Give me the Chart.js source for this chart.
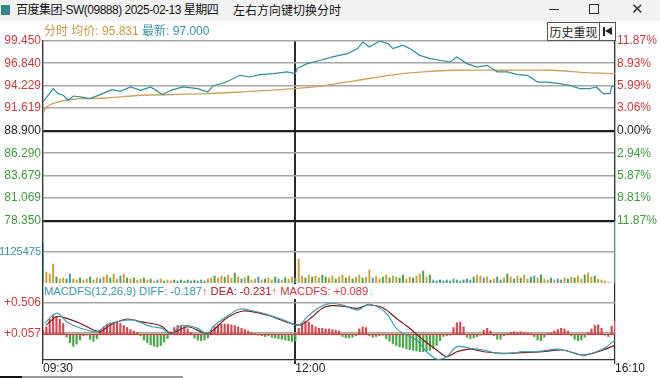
<!DOCTYPE html>
<html>
<head>
<meta charset="utf-8">
<script src="https://cdn.jsdelivr.net/npm/chart.js@4.4.1/dist/chart.umd.min.js"></script>
<style>
  html, body { margin: 0; padding: 0; }
  body {
    width: 660px; height: 378px; overflow: hidden; background: #fff; position: relative;
    font-family: "Liberation Sans", Arial, "Noto Sans CJK SC", sans-serif;
  }
  .cjk { font-family: "Noto Sans CJK SC", sans-serif; }
  .titlebar { position: absolute; left: 0; top: 0; width: 660px; height: 21px; background: #f3f3f3; }
  .title-icon { position: absolute; left: 1px; top: 5px; width: 9px; height: 10px; background: linear-gradient(90deg, #2e8f6e, #3b7f9e); }
  .title-text { position: absolute; left: 16px; top: 1px; font-size: 12px; line-height: 18px; color: #111; white-space: nowrap; letter-spacing: -0.5px; }
  .hint { position: absolute; left: 233px; top: 1px; font-size: 12px; line-height: 18px; color: #111; white-space: nowrap; }
  .win-min { position: absolute; left: 549px; top: 9px; width: 10px; height: 1px; background: #333; }
  .win-max { position: absolute; left: 589px; top: 4px; width: 8px; height: 8px; border: 1px solid #333; }
  .win-close { position: absolute; left: 631px; top: 0px; font-size: 15px; line-height: 17px; color: #333; }
  .legend { position: absolute; left: 44px; top: 24px; font-size: 12px; line-height: 15px; white-space: nowrap; }
  .btn-hist { position: absolute; left: 547px; top: 22px; width: 51px; height: 17px; border: 1px solid #555; background: #fff;
              font-size: 12px; line-height: 17px; text-align: center; color: #222; }
  .btn-back { position: absolute; left: 599px; top: 22px; width: 15px; height: 17px; border: 1px solid #555; background: #fff; }
  .btn-back .bar { position: absolute; left: 3px; top: 4px; width: 2px; height: 9px; background: #222; }
  .btn-back .tri { position: absolute; left: 5px; top: 4px; width: 0; height: 0; border-top: 4.5px solid transparent;
                   border-bottom: 4.5px solid transparent; border-right: 7px solid #222; }
  .macd-legend { position: absolute; left: 44px; top: 284px; font-size: 11.2px; line-height: 15px; white-space: nowrap; background: #fff; padding-right: 2px; }
  canvas { position: absolute; left: 0; }
  #priceCanvas { top: 30px; }
  #volCanvas { top: 214px; }
  #macdCanvas { top: 283px; }
  .foot { position: absolute; left: 0; top: 376px; width: 183px; height: 2px; background: #9a9a9a; }
  .foot .dk { position: absolute; left: 0; top: 0; width: 22px; height: 2px; background: #111; }
</style>
</head>
<body>
<div class="titlebar">
  <div class="title-icon"></div>
  <div class="title-text">百度集团-SW(09888) 2025-02-13 星期四</div>
  <div class="hint cjk">左右方向键切换分时</div>
  <div class="win-min"></div>
  <div class="win-max"></div>
  <div class="win-close">✕</div>
</div>

<canvas id="priceCanvas" width="660" height="200"></canvas>
<canvas id="volCanvas" width="660" height="76"></canvas>
<canvas id="macdCanvas" width="660" height="95"></canvas>

<div class="legend">
  <span style="color:#c49a48">分时 均价: 95.831</span>
  <span style="color:#3a93a0">最新: 97.000</span>
</div>
<div class="btn-hist cjk">历史重现</div>
<div class="btn-back"><div class="bar"></div><div class="tri"></div></div>
<div class="macd-legend"><span style="color:#3a96a3">MACDFS(12,26,9) DIFF: -0.187</span><span style="color:#e04a4a">↑</span><span style="color:#a0202e"> DEA: -0.231</span><span style="color:#e04a4a">↑</span><span style="color:#c8384a"> MACDFS: +0.089</span><span style="color:#8fd3e6">↓</span></div>
<div class="foot"><div class="dk"></div></div>

<script>
// ---- axis ticks / labels ----
const prevClose = 88.900;
const priceTicks = [99.450, 96.840, 94.229, 91.619, 88.900, 86.290, 83.679, 81.069, 78.350];
const timeTicks = [0, 150, 340];           // minutes since 09:30 (lunch break removed)
const timeLabels = ['09:30', '12:00', '16:10'];
const volumeTicks = [1125475];
const volumeMax = 2250950;
const macdTicks = [0.506, 0.057];

// ---- price (teal) and average price (tan) ----
const priceMinutes = [0, 6, 9, 12, 15, 18, 22, 28, 34, 41, 46, 52, 58, 64, 71, 76, 83, 92, 98, 101,
  109, 117, 123, 129, 137, 145, 150, 151, 157, 165, 172, 181, 187, 190, 194, 200, 205, 208, 214, 218,
  224, 230, 236, 242, 246, 252, 258, 264, 270, 276, 282, 288, 294, 300, 307, 313, 319, 325, 329, 333,
  337, 338, 340];
const priceValues = [92.30, 93.87, 93.28, 93.09, 92.50, 93.00, 92.89, 92.70, 93.17, 93.75, 93.55, 94.06, 93.67, 94.06, 93.17, 93.67, 94.06, 93.87, 93.47, 94.18,
  94.64, 95.43, 95.23, 95.51, 95.63, 95.82, 95.63, 96.22, 96.80, 97.19, 97.58, 97.97, 98.56, 99.33, 98.75, 99.42, 99.15, 98.56, 98.95, 98.56,
  97.77, 97.39, 97.19, 96.99, 97.58, 96.80, 96.40, 96.60, 95.82, 95.82, 95.51, 95.43, 94.64, 94.64, 94.46, 94.26, 93.87, 93.87, 94.06, 93.28,
  93.28, 94.06, 94.18];
const avgMinutes = [0, 2, 6, 18, 38, 58, 77, 98, 117, 150, 166, 187, 206, 226, 244, 273, 303, 323, 340];
const avgValues = [90.97, 91.68, 92.15, 92.62, 92.77, 93.09, 93.17, 93.28, 93.47, 93.87, 94.18, 94.84, 95.43, 95.82, 96.02, 96.02, 96.02, 95.75, 95.63];

// ---- volume, one bar per 2-minute slot ----
const BAR_STEP = 2;
const volumes = [
  1452000, 399000, 327000, 690000, 218000, 145000, 182000, 145000, 327000, 145000,
  109000, 182000, 109000, 145000, 218000, 109000, 182000, 145000, 218000, 290000,
  182000, 327000, 145000, 254000, 327000, 182000, 145000, 182000, 109000, 145000,
  182000, 109000, 145000, 73000, 109000, 145000, 73000, 109000, 73000, 109000,
  73000, 109000, 73000, 109000, 73000, 109000, 73000, 109000, 73000, 145000,
  182000, 254000, 182000, 254000, 218000, 290000, 182000, 363000, 218000, 145000,
  182000, 254000, 109000, 145000, 218000, 109000, 145000, 182000, 109000, 218000,
  145000, 109000, 182000, 145000, 218000, 182000, 871000, 254000, 182000, 290000,
  218000, 254000, 182000, 290000, 218000, 182000, 254000, 145000, 218000, 290000,
  182000, 254000, 145000, 218000, 290000, 182000, 218000, 472000, 182000, 254000,
  145000, 218000, 290000, 182000, 254000, 218000, 182000, 290000, 145000, 218000,
  182000, 254000, 327000, 436000, 218000, 290000, 109000, 73000, 109000, 73000,
  109000, 73000, 145000, 109000, 73000, 109000, 145000, 109000, 218000, 290000,
  254000, 182000, 218000, 109000, 145000, 218000, 109000, 182000, 327000, 218000,
  145000, 254000, 182000, 290000, 145000, 218000, 254000, 182000, 290000, 145000,
  109000, 182000, 109000, 145000, 109000, 182000, 145000, 218000, 182000, 254000,
  145000, 290000, 363000, 218000, 254000, 145000, 109000, 73000, 36000, 0,
  2250950];
// o = up (gold), g = down (green), t = flat (teal)
const volumeDir =
  'tooogoogto' + 'ogoogootoo' + 'gootogogoo' + 'gogotogoog' + 'tgtgtgttgo' +
  'ogoogoogot' + 'ogootogoog' + 'togoogoogo' + 'googgoogoo' + 'gogoogooto' +
  'ogogooggoo' + 'googogttgt' + 'tgtttgttgo' + 'otogogtogo' + 'gogoogtogo' +
  'ototgogogo' + 'ogoogoooot' + 't';

// ---- MACD panel ----
const macdBase = 0.042;                    // level of the red zero line
const macdHist = [
  0.10, 0.15, 0.26, 0.32, 0.30, 0.26, 0.20, 0.00, -0.08, -0.13,
  -0.10, -0.04, 0.02, 0.03, -0.03, -0.06, -0.02, 0.10, 0.15, 0.19,
  0.21, 0.22, 0.22, 0.20, 0.17, 0.14, 0.11, 0.09, 0.07, 0.02,
  -0.04, -0.08, -0.11, -0.13, -0.14, -0.12, -0.07, -0.02, 0.08, 0.14,
  0.17, 0.17, 0.15, 0.12, 0.07, -0.01, -0.04, -0.05, -0.04, -0.01,
  0.10, 0.15, 0.18, 0.19, 0.19, 0.19, 0.18, 0.17, 0.15, 0.13,
  0.11, 0.09, 0.07, 0.05, 0.03, 0.02, 0.01, 0.02, 0.00, -0.01,
  -0.02, -0.03, -0.04, -0.05, -0.06, -0.06, 0.13, 0.20, 0.23, 0.22,
  0.18, 0.15, 0.13, 0.13, 0.12, 0.12, 0.11, 0.10, 0.09, 0.01,
  -0.01, -0.01, 0.00, 0.02, 0.12, 0.15, 0.14, 0.02, 0.00, 0.01,
  0.02, 0.03, -0.02, -0.06, -0.09, -0.12, -0.14, -0.15, -0.17, -0.18,
  -0.19, -0.20, -0.21, -0.21, -0.20, -0.19, -0.16, -0.12, -0.05, 0.01,
  0.02, 0.03, 0.14, 0.21, 0.22, 0.15, 0.00, -0.02, -0.01, 0.01,
  0.03, 0.10, 0.13, 0.09, 0.02, -0.03, -0.03, 0.02, 0.05, 0.07,
  0.08, 0.07, 0.08, 0.07, 0.06, 0.05, 0.01, -0.04, -0.05, 0.00,
  0.05, 0.06, 0.09, 0.11, 0.13, 0.12, 0.09, 0.02, -0.03, -0.05,
  -0.04, 0.00, 0.07, 0.12, 0.17, 0.18, 0.13, 0.03, 0.01, 0.16,
  0.23];
const diffMinutes = [1, 6, 9, 14, 20, 26, 32, 38, 46, 54, 59, 65, 71, 76, 81, 86, 92, 98, 101, 109,
  117, 125, 133, 143, 150, 153, 157, 165, 171, 178, 187, 193, 200, 205, 210, 216, 222, 228, 234, 240,
  246, 254, 262, 270, 278, 285, 294, 306, 313, 321, 329, 335, 340];
const diffValues = [0.202, 0.322, 0.347, 0.225, 0.152, 0.105, 0.080, 0.177, 0.235, 0.249, 0.202, 0.152, 0.129, 0.042, 0.152, 0.167, 0.129, 0.042, 0.152, 0.297,
  0.409, 0.380, 0.332, 0.249, 0.177, 0.187, 0.297, 0.442, 0.492, 0.467, 0.394, 0.477, 0.428, 0.322, 0.129, 0.032, -0.040, -0.210, -0.316, -0.282,
  -0.137, -0.161, -0.185, -0.233, -0.233, -0.210, -0.210, -0.171, -0.210, -0.258, -0.210, -0.137, -0.040];
const deaMinutes = [2, 8, 14, 22, 30, 34, 40, 50, 58, 70, 76, 86, 98, 109, 119, 133, 147, 153, 159, 166,
  171, 178, 187, 193, 202, 210, 218, 226, 234, 240, 246, 254, 262, 273, 285, 297, 309, 321, 333, 340];
const deaValues = [0.177, 0.297, 0.274, 0.202, 0.105, 0.080, 0.177, 0.264, 0.225, 0.167, 0.057, 0.152, 0.057, 0.274, 0.380, 0.322, 0.202, 0.177, 0.274, 0.419,
  0.457, 0.452, 0.419, 0.467, 0.428, 0.274, 0.129, -0.040, -0.185, -0.282, -0.210, -0.171, -0.210, -0.233, -0.224, -0.210, -0.185, -0.258, -0.185, -0.113];

// ---- styling ----
const RED = '#cc3b3b', GREEN = '#3d9a3d', INK = '#1e1e1e', GRIDGRAY = '#a6a6a6';
const TEAL = '#2f8e99', TAN = '#c9a35e';
const VOL_COLORS = { o: '#c9a13c', g: '#4f9e4f', t: '#4a98a6' };
const LEFT_W = 43, RIGHT_W = 45;

Chart.defaults.font.family = '"Liberation Sans", Arial, sans-serif';
Chart.defaults.font.size = 12;
Chart.defaults.animation = false;
Chart.defaults.responsive = false;
Chart.defaults.plugins.legend.display = false;
Chart.defaults.plugins.tooltip.enabled = false;

const pts = (xs, ys) => xs.map((x, i) => ({ x, y: ys[i] }));
const fixTicks = list => scale => { scale.ticks = list.map(v => ({ value: v })); };
const sideFit = w => scale => { scale.width = w; scale.paddingTop = 0; scale.paddingBottom = 0; };

function timeScale(showLabels) {
  return {
    type: 'linear', min: 0, max: 340, offset: false,
    afterBuildTicks: fixTicks(timeTicks),
    afterFit: s => { s.height = showLabels ? 18 : 0; s.paddingLeft = 0; s.paddingRight = 0; },
    grid: { offset: false, color: '#2a2a2a', lineWidth: c => (c.tick && c.tick.value === 150) ? 2 : 1.2,
            drawTicks: showLabels, tickLength: 4 },
    border: { display: showLabels, color: '#333', width: 1.2 },
    ticks: { display: showLabels, autoSkip: false, maxRotation: 0, align: 'start', padding: -3, color: '#222',
             callback: v => timeLabels[timeTicks.indexOf(v)] }
  };
}

const priceColor = v => v > prevClose + 1e-9 ? RED : (v < prevClose - 1e-9 ? GREEN : INK);
const strongLine = v => v === prevClose || v === priceTicks[priceTicks.length - 1];

// price panel
new Chart(document.getElementById('priceCanvas'), {
  type: 'line',
  data: {
    datasets: [
      { data: pts(priceMinutes, priceValues), borderColor: TEAL, borderWidth: 1.2, pointRadius: 0, tension: 0 },
      { data: pts(avgMinutes, avgValues), borderColor: TAN, borderWidth: 1.3, pointRadius: 0, tension: 0.3 }
    ]
  },
  options: {
    layout: { padding: { top: 11, bottom: 9, left: 0, right: 0 } },
    scales: {
      x: timeScale(false),
      y: {
        position: 'left', min: priceTicks[priceTicks.length - 1], max: priceTicks[0],
        afterBuildTicks: fixTicks(priceTicks), afterFit: sideFit(LEFT_W),
        grid: { drawTicks: false, color: c => strongLine(c.tick.value) ? INK : GRIDGRAY,
                lineWidth: c => strongLine(c.tick.value) ? 2.2 : 1.6 },
        border: { color: '#333', width: 1.2 },
        ticks: { padding: 2, color: c => priceColor(c.tick.value), callback: v => v.toFixed(3) }
      },
      pct: {
        position: 'right', min: priceTicks[priceTicks.length - 1], max: priceTicks[0],
        afterBuildTicks: fixTicks(priceTicks), afterFit: sideFit(RIGHT_W),
        grid: { display: false, drawTicks: false },
        border: { color: '#333', width: 1.2 },
        ticks: { padding: 2, color: c => priceColor(c.tick.value),
                 callback: v => (Math.abs(v - prevClose) / prevClose * 100).toFixed(2) + '%' }
      }
    }
  }
});

// volume panel
new Chart(document.getElementById('volCanvas'), {
  type: 'bar',
  data: {
    datasets: [{
      data: volumes.map((v, i) => ({ x: i * BAR_STEP, y: v })),
      backgroundColor: volumes.map((v, i) => VOL_COLORS[volumeDir[i]]),
      barThickness: 1.3, grouped: false
    }]
  },
  options: {
    layout: { padding: { top: 7, bottom: 7, left: 0, right: RIGHT_W } },
    scales: {
      x: timeScale(false),
      y: {
        position: 'left', min: 0, max: volumeMax,
        afterBuildTicks: fixTicks(volumeTicks), afterFit: sideFit(LEFT_W),
        grid: { drawTicks: false, color: GRIDGRAY, lineWidth: 1.6 },
        border: { color: '#333', width: 1.2 },
        ticks: { padding: 2, color: '#3a8fa0', font: { size: 11 }, callback: v => String(v) }
      }
    }
  }
});

// MACD panel (top of its area sits under the legend row)
const MACD_MIN = -0.330, MACD_MAX = 0.786;
new Chart(document.getElementById('macdCanvas'), {
  type: 'bar',
  data: {
    datasets: [
      { type: 'line', data: pts(diffMinutes, diffValues), borderColor: '#3f9ea6', borderWidth: 1.2, pointRadius: 0, tension: 0.3, order: 0 },
      { type: 'line', data: pts(deaMinutes, deaValues), borderColor: '#7a1c22', borderWidth: 1.2, pointRadius: 0, tension: 0.3, order: 1 },
      { type: 'line', data: pts([0, 340], [macdBase, macdBase]), borderColor: '#d23a3a', borderWidth: 1.2, pointRadius: 0, order: 2 },
      {
        data: macdHist.map((v, i) => ({ x: i * BAR_STEP, y: v })),
        backgroundColor: macdHist.map(v => v >= macdBase ? '#d9484f' : '#45a845'),
        base: macdBase, barThickness: 1.5, grouped: false, order: 3
      }
    ]
  },
  options: {
    layout: { padding: { top: 0, bottom: 0, left: 0, right: RIGHT_W } },
    scales: {
      x: timeScale(true),
      y: {
        position: 'left', min: MACD_MIN, max: MACD_MAX,
        afterBuildTicks: fixTicks(macdTicks), afterFit: sideFit(LEFT_W),
        grid: { drawTicks: false, color: GRIDGRAY, lineWidth: 1.6 },
        border: { color: '#333', width: 1.2 },
        ticks: { padding: 2, color: RED, callback: v => (v >= 0 ? '+' : '') + v.toFixed(3) }
      }
    }
  }
});
</script>
</body>
</html>
